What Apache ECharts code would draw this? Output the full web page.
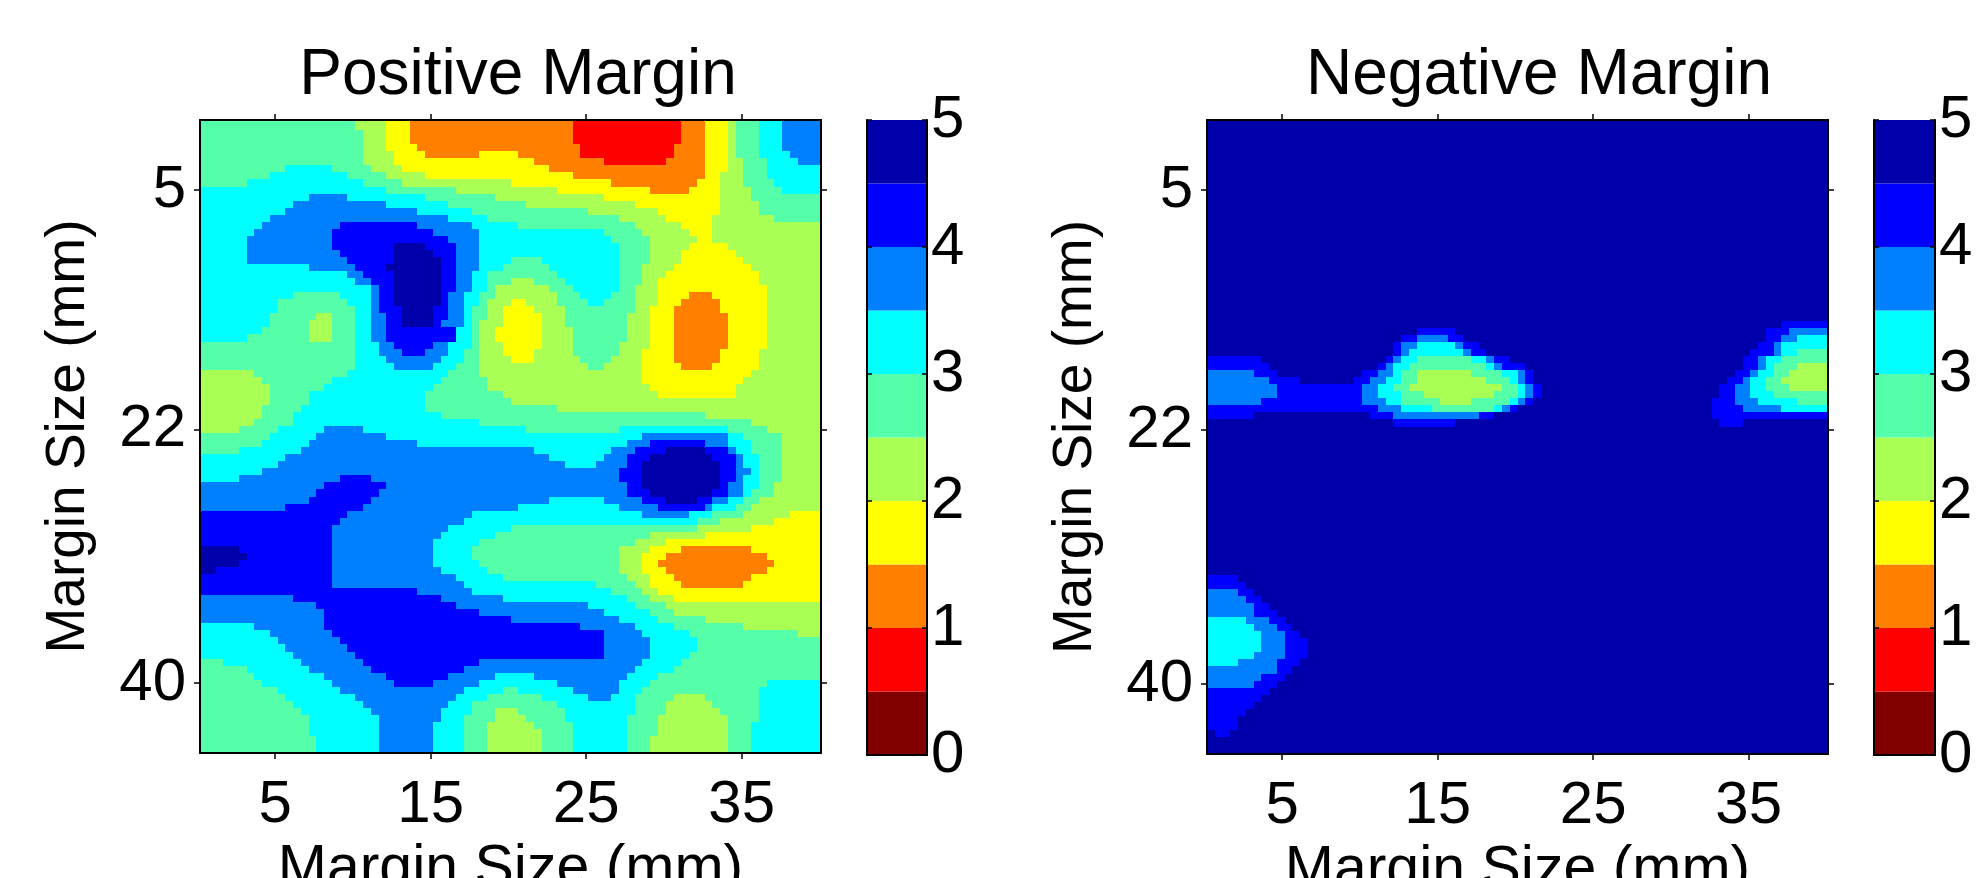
<!DOCTYPE html>
<html><head><meta charset="utf-8">
<style>html,body{margin:0;padding:0;background:#fff}#c{width:1979px;height:878px}</style>
<script src="https://cdn.jsdelivr.net/npm/echarts@6/dist/echarts.min.js"></script>
</head><body><div id="c"></div>
<script>
// Each row is one 0.5 mm strip of the map. Token = colour band digit (0..9) + end column (0..80, half-mm columns).
const positiveRows = [
"520 424 327 248 162 265 368 469 572 675 780",
"521 424 327 248 162 265 368 469 572 675 780",
"521 424 327 248 162 265 368 469 572 675 780",
"521 424 328 249 161 265 368 469 572 675 780",
"521 425 329 236 341 249 161 265 368 469 572 676 780",
"521 425 343 252 160 265 368 470 573 677 780",
"511 617 522 426 345 265 368 470 573 680",
"509 619 524 429 348 265 367 470 573 680",
"506 621 526 440 353 264 367 470 574 680",
"624 533 446 358 263 367 471 575 680",
"614 719 629 538 452 367 471 580",
"612 724 632 542 456 367 472 580",
"611 728 635 550 459 367 472 580",
"609 732 637 554 460 366 474 580",
"608 718 828 735 641 556 462 366 480",
"607 717 830 736 652 557 463 366 480",
"606 717 832 736 653 558 464 366 480",
"606 717 825 929 833 736 654 558 463 368 480",
"606 718 825 930 833 736 654 558 462 369 480",
"606 719 825 931 833 736 640 544 654 558 462 370 480",
"614 720 824 931 833 736 639 545 654 557 461 371 480",
"619 721 825 931 833 735 637 546 654 557 460 372 480",
"620 722 825 931 833 735 637 540 443 547 654 557 459 372 480",
"622 723 825 931 833 735 637 538 445 548 654 556 459 373 480",
"612 518 622 723 825 931 832 734 636 538 446 549 653 556 459 363 266 373 480",
"610 519 622 723 825 931 832 734 636 537 440 342 446 550 652 556 459 362 267 373 480",
"610 520 622 723 826 930 832 734 635 537 439 343 447 556 458 361 267 373 480",
"609 515 417 520 622 724 826 930 832 734 635 537 439 344 447 555 458 361 268 373 480",
"609 514 417 520 622 724 826 930 831 734 635 536 439 344 447 555 458 361 268 373 480",
"608 514 417 520 622 724 831 833 635 536 438 344 448 555 458 361 268 373 480",
"606 514 417 520 622 724 831 833 635 536 438 344 448 555 458 361 268 373 480",
"520 623 725 830 732 635 536 439 344 448 554 458 361 268 373 480",
"520 623 726 829 732 634 536 439 343 448 554 457 361 267 372 480",
"520 624 731 634 536 440 343 449 553 457 361 267 372 480",
"520 625 730 633 536 450 552 457 362 266 372 480",
"407 519 632 536 457 371 480",
"408 517 631 537 457 370 480",
"409 516 630 537 458 369 480",
"409 514 629 539 459 369 480",
"409 514 629 540 480",
"408 513 629 546 480",
"408 512 631 565 480",
"407 512 636 571 480",
"405 510 616 721 642 554 668 573 480",
"509 615 724 657 768 670 575 480",
"508 614 728 655 758 865 768 671 575 480",
"505 613 743 653 756 860 965 868 769 671 575 480",
"611 745 652 755 858 966 869 770 672 575 480",
"610 747 651 755 857 967 869 770 672 575 480",
"608 754 857 967 869 771 672 575 480",
"605 718 822 754 857 967 869 770 672 575 480",
"716 824 755 857 967 868 770 672 574 480",
"715 823 755 858 966 868 770 671 574 480",
"714 822 745 652 757 860 964 866 768 670 572 480",
"711 821 741 654 759 865 766 669 571 480",
"819 735 657 763 666 570 476 380",
"818 734 664 567 474 380",
"817 732 640 564 471 380",
"817 731 638 558 465 380",
"817 730 636 556 460 380",
"905 817 730 635 554 458 362 271 380",
"906 817 730 635 554 457 360 273 380",
"905 817 730 636 554 457 359 274 380",
"902 817 731 637 554 457 360 273 380",
"817 733 639 555 458 361 271 380",
"817 734 651 556 458 362 270 380",
"828 735 653 557 459 380",
"712 831 739 655 558 461 380",
"715 833 750 656 560 480",
"716 836 752 658 561 480",
"716 840 754 659 565 480",
"607 716 849 756 661 570 480",
"609 717 852 757 663 577 480",
"610 718 852 758 664 580",
"611 719 852 758 664 580",
"612 720 852 758 663 580",
"503 613 721 836 757 662 580",
"506 614 722 834 756 661 580",
"507 616 724 832 738 643 755 659 580",
"508 617 725 830 736 646 754 658 573 680",
"510 618 734 639 541 648 754 657 572 680",
"511 620 733 637 544 650 753 656 561 465 572 680",
"512 621 732 635 546 656 560 466 572 680",
"513 622 731 635 538 441 547 656 560 467 572 680",
"514 623 731 634 538 442 547 655 559 468 572 680",
"514 623 730 634 537 443 548 655 559 468 571 680",
"514 623 730 634 537 444 548 655 559 468 571 680",
"515 623 730 634 537 444 548 655 558 468 571 680",
"515 623 730 634 537 444 548 655 558 468 571 680"
];
const negativeRows = [
"980","980","980","980","980","980","980","980","980","980","980","980","980","980",
"980","980","980","980","980","980","980","980","980","980","980","980","980","980",
"974 880",
"927 832 972 875 780",
"925 827 731 833 972 874 776 680",
"924 825 727 632 733 835 971 873 774 680",
"924 825 726 633 734 836 970 873 774 676 580",
"807 923 824 725 627 534 636 737 839 969 871 772 674 580",
"808 922 823 724 626 536 637 738 841 969 871 772 673 576 480",
"706 809 920 822 724 625 527 434 538 640 741 842 968 870 771 673 575 480",
"708 812 919 821 723 625 527 436 539 640 741 842 967 869 770 672 574 480",
"709 820 722 624 526 438 540 641 742 843 966 868 770 672 575 480",
"709 820 722 625 528 437 540 641 742 843 966 868 770 673 580",
"707 820 723 625 530 434 539 640 741 842 965 868 771 676 580",
"822 725 629 537 638 739 840 965 869 774 680",
"806 921 824 735 837 965 880",
"924 832 966 869 980",
"980","980","980","980","980","980","980","980","980","980","980",
"980","980","980","980","980","980","980","980","980","980",
"804 980",
"805 980",
"704 806 980",
"705 807 980",
"706 808 980",
"706 809 980",
"605 708 810 980",
"606 709 811 980",
"607 710 812 980",
"607 710 813 980",
"607 710 813 980",
"606 710 813 980",
"604 709 812 980",
"709 811 980",
"707 810 980",
"706 809 980",
"808 980",
"807 980",
"806 980",
"805 980",
"804 980",
"804 980",
"901 803 980",
"980",
"980"
];
const bandColors = ['#800000','#ff0000','#ff8000','#ffff00','#aaff55','#55ffaa','#00ffff','#0080ff','#0000ff','#0000aa'];
const bandStep = 0.5;
const xTicks = [5, 15, 25, 35];
const yTicks = [5, 22, 40];
const titles = ['Positive Margin', 'Negative Margin'];
const axisName = 'Margin Size (mm)';
const xRange = [0.17, 40.1];
const yRange = [0.03, 44.95];
const nCols = 80;
const rowMm = 0.5;

const font = 'Liberation Sans';
const tickFont = 60;

// one datum per constant-value stretch of a row: [xFrom, xTo, yFrom, yTo, value]
function toSpans(rows) {
  const out = [];
  const colMm = (xRange[1] - xRange[0]) / nCols;
  rows.forEach((row, r) => {
    const yc = rowMm + r * rowMm;
    const y0 = r === 0 ? yRange[0] : yc - rowMm / 2;
    const y1 = r === rows.length - 1 ? yRange[1] : yc + rowMm / 2;
    let c = 0;
    row.split(' ').forEach(t => {
      const band = +t[0], end = +t.slice(1);
      out.push([xRange[0] + c * colMm, xRange[0] + end * colMm, y0, y1, band * bandStep + bandStep / 2]);
      c = end;
    });
  });
  return out;
}
function drawSpan(params, api) {
  const a = api.coord([api.value(0), api.value(2)]);
  const b = api.coord([api.value(1), api.value(3)]);
  const x = Math.round(a[0]), y = Math.round(a[1]);
  return {type: 'rect', shape: {x, y, width: Math.round(b[0]) - x, height: Math.round(b[1]) - y},
    style: {fill: bandColors[Math.floor(api.value(4) / bandStep)]}};
}

const layout = [
  {plot: {left: 200, top: 120, width: 621, height: 633}, bar: {left: 867, top: 120, width: 60, height: 635}, title: 513},
  {plot: {left: 1207, top: 120, width: 621, height: 634}, bar: {left: 1874, top: 120, width: 61, height: 635}, title: 1534}
];
const line = {show: true, lineStyle: {color: '#000', width: 2}};
const grid = [], xAxis = [], yAxis = [], series = [], title = [];

layout.forEach((l, k) => {
  const g = grid.length;
  grid.push({...l.plot, outerBoundsMode: 'none'});
  const ax0 = xAxis.length, ay0 = yAxis.length;
  const tx = {show: true, length: 6, lineStyle: {color: '#000', width: 1.5}, customValues: xTicks};
  const ty = {show: true, length: 6, lineStyle: {color: '#000', width: 1.5}, customValues: yTicks};
  xAxis.push({type: 'value', gridIndex: g, position: 'bottom', min: xRange[0], max: xRange[1], z: 5, axisLine: line, axisTick: tx, splitLine: {show: false},
    axisLabel: {customValues: xTicks, fontFamily: font, fontSize: tickFont, color: '#000', margin: 22},
    name: axisName, nameLocation: 'middle', nameGap: 78, nameTextStyle: {fontFamily: font, fontSize: 59, color: '#000'}});
  xAxis.push({type: 'value', gridIndex: g, position: 'top', min: xRange[0], max: xRange[1], z: 5, axisLine: line, axisTick: tx, splitLine: {show: false}, axisLabel: {show: false}});
  yAxis.push({type: 'value', gridIndex: g, position: 'left', inverse: true, min: yRange[0], max: yRange[1], z: 5, axisLine: line, axisTick: ty, splitLine: {show: false},
    axisLabel: {customValues: yTicks, fontFamily: font, fontSize: tickFont, color: '#000', margin: 14},
    name: axisName, nameLocation: 'middle', nameGap: 104, nameTextStyle: {fontFamily: font, fontSize: 55, color: '#000'}});
  yAxis.push({type: 'value', gridIndex: g, position: 'right', inverse: true, min: yRange[0], max: yRange[1], z: 5, axisLine: line, axisTick: ty, splitLine: {show: false}, axisLabel: {show: false}});
  series.push({type: 'custom', xAxisIndex: ax0, yAxisIndex: ay0, renderItem: drawSpan, encode: {x: [0, 1], y: [2, 3]},
    data: toSpans(k === 0 ? positiveRows : negativeRows), progressive: 0, animation: false, silent: true, z: 1});
  title.push({text: titles[k], left: l.title, top: 39, textAlign: 'center', textStyle: {fontFamily: font, fontSize: 64, fontWeight: 'normal', color: '#000'}});

  const b = grid.length;
  grid.push({...l.bar, outerBoundsMode: 'none'});
  const bx = xAxis.length;
  xAxis.push({type: 'category', gridIndex: b, data: ['c'], z: 5, axisLine: line, axisTick: {show: false}, axisLabel: {show: false}});
  xAxis.push({type: 'category', gridIndex: b, data: ['c'], position: 'top', z: 5, axisLine: {show: true, lineStyle: {color: '#000', width: 1}}, axisTick: {show: false}, axisLabel: {show: false}});
  const by = yAxis.length;
  const bt = {show: true, inside: true, length: 5, lineStyle: {color: '#000', width: 1.5}};
  yAxis.push({type: 'value', gridIndex: b, position: 'left', min: 0, max: 5, interval: 1, z: 5, axisLine: line, axisTick: bt, splitLine: {show: false}, axisLabel: {show: false}});
  yAxis.push({type: 'value', gridIndex: b, position: 'right', min: 0, max: 5, interval: 1, z: 5, axisLine: line, axisTick: bt, splitLine: {show: false},
    axisLabel: {fontFamily: font, fontSize: tickFont, color: '#000', margin: 4, showMinLabel: true, showMaxLabel: true}});
  bandColors.forEach(color => series.push({type: 'bar', xAxisIndex: bx, yAxisIndex: by, stack: 'bar' + k, barWidth: '100%', data: [bandStep], itemStyle: {color}, animation: false, silent: true, z: 1}));
});

const chart = echarts.init(document.getElementById('c'));
chart.setOption({animation: false, backgroundColor: '#fff', title, grid, xAxis, yAxis, series});
</script></body></html>
